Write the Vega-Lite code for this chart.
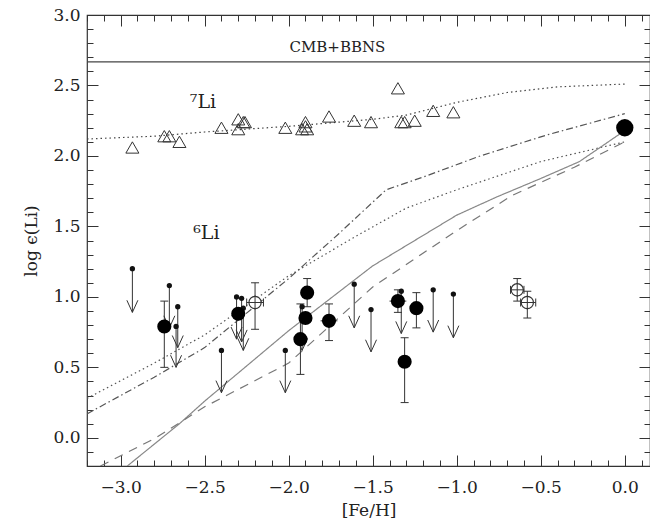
{
  "$schema": "https://vega.github.io/schema/vega-lite/v6.json",
  "width": 563,
  "height": 451,
  "autosize": {"type": "none"},
  "padding": {"left": 87, "top": 15, "right": 0, "bottom": 57},
  "background": "white",
  "config": {
    "view": {"stroke": "#333", "strokeWidth": 1.2},
    "axis": {"grid": false, "domain": false, "tickColor": "#333", "tickWidth": 1, "labelFont": "DejaVu Serif", "labelFontSize": 17, "labelColor": "#222", "titleFont": "DejaVu Serif", "titleFontSize": 17, "titleFontWeight": "normal", "titleColor": "#222"}
  },
  "datasets": {
    "models": [
      {"model": "Li7", "x": -3.2, "y": 2.12}, {"model": "Li7", "x": -2.8, "y": 2.14}, {"model": "Li7", "x": -2.5, "y": 2.17}, {"model": "Li7", "x": -2.0, "y": 2.21}, {"model": "Li7", "x": -1.5, "y": 2.26}, {"model": "Li7", "x": -1.3, "y": 2.29}, {"model": "Li7", "x": -1.0, "y": 2.38}, {"model": "Li7", "x": -0.7, "y": 2.45}, {"model": "Li7", "x": -0.4, "y": 2.49}, {"model": "Li7", "x": 0.0, "y": 2.51},
      {"model": "Li6dot", "x": -3.2, "y": 0.28}, {"model": "Li6dot", "x": -2.8, "y": 0.53}, {"model": "Li6dot", "x": -2.5, "y": 0.73}, {"model": "Li6dot", "x": -2.0, "y": 1.15}, {"model": "Li6dot", "x": -1.6, "y": 1.43}, {"model": "Li6dot", "x": -1.3, "y": 1.63}, {"model": "Li6dot", "x": -1.0, "y": 1.76}, {"model": "Li6dot", "x": -0.5, "y": 1.96}, {"model": "Li6dot", "x": 0.0, "y": 2.10},
      {"model": "Li6dashdot", "x": -3.2, "y": 0.17}, {"model": "Li6dashdot", "x": -2.8, "y": 0.43}, {"model": "Li6dashdot", "x": -2.5, "y": 0.64}, {"model": "Li6dashdot", "x": -2.0, "y": 1.13}, {"model": "Li6dashdot", "x": -1.7, "y": 1.45}, {"model": "Li6dashdot", "x": -1.42, "y": 1.76}, {"model": "Li6dashdot", "x": -1.2, "y": 1.85}, {"model": "Li6dashdot", "x": -0.86, "y": 2.0}, {"model": "Li6dashdot", "x": -0.46, "y": 2.15}, {"model": "Li6dashdot", "x": 0.0, "y": 2.30},
      {"model": "Li6solid", "x": -2.96, "y": -0.2}, {"model": "Li6solid", "x": -2.65, "y": 0.1}, {"model": "Li6solid", "x": -2.5, "y": 0.26}, {"model": "Li6solid", "x": -2.0, "y": 0.76}, {"model": "Li6solid", "x": -1.5, "y": 1.22}, {"model": "Li6solid", "x": -1.0, "y": 1.58}, {"model": "Li6solid", "x": -0.76, "y": 1.71}, {"model": "Li6solid", "x": -0.5, "y": 1.84}, {"model": "Li6solid", "x": -0.27, "y": 1.96}, {"model": "Li6solid", "x": 0.0, "y": 2.18},
      {"model": "Li6dashed", "x": -3.12, "y": -0.2}, {"model": "Li6dashed", "x": -2.79, "y": 0.0}, {"model": "Li6dashed", "x": -2.5, "y": 0.22}, {"model": "Li6dashed", "x": -2.0, "y": 0.53}, {"model": "Li6dashed", "x": -1.5, "y": 1.07}, {"model": "Li6dashed", "x": -1.0, "y": 1.47}, {"model": "Li6dashed", "x": -0.67, "y": 1.72}, {"model": "Li6dashed", "x": -0.3, "y": 1.92}, {"model": "Li6dashed", "x": 0.0, "y": 2.10}
    ],
    "cmb": [{"y": 2.667}],
    "tri": [
      {"x": -2.93, "y": 2.06}, {"x": -2.74, "y": 2.14}, {"x": -2.71, "y": 2.14}, {"x": -2.65, "y": 2.10}, {"x": -2.40, "y": 2.20}, {"x": -2.30, "y": 2.26}, {"x": -2.27, "y": 2.24}, {"x": -2.30, "y": 2.19}, {"x": -2.26, "y": 2.24}, {"x": -2.02, "y": 2.20}, {"x": -1.90, "y": 2.24}, {"x": -1.92, "y": 2.19}, {"x": -1.89, "y": 2.19}, {"x": -1.90, "y": 2.21}, {"x": -1.76, "y": 2.28}, {"x": -1.61, "y": 2.25}, {"x": -1.51, "y": 2.24}, {"x": -1.35, "y": 2.48}, {"x": -1.33, "y": 2.24}, {"x": -1.31, "y": 2.24}, {"x": -1.25, "y": 2.25}, {"x": -1.14, "y": 2.32}, {"x": -1.02, "y": 2.31}
    ],
    "det": [
      {"x": -2.74, "y": 0.79, "ylo": 0.50, "yhi": 0.97},
      {"x": -2.30, "y": 0.88, "ylo": 0.88, "yhi": 0.88},
      {"x": -1.89, "y": 1.03, "ylo": 0.93, "yhi": 1.13},
      {"x": -1.90, "y": 0.85, "ylo": 0.85, "yhi": 0.85},
      {"x": -1.93, "y": 0.70, "ylo": 0.45, "yhi": 0.95},
      {"x": -1.76, "y": 0.83, "ylo": 0.69, "yhi": 0.95},
      {"x": -1.35, "y": 0.97, "ylo": 0.89, "yhi": 1.05},
      {"x": -1.31, "y": 0.54, "ylo": 0.25, "yhi": 0.71},
      {"x": -1.24, "y": 0.92, "ylo": 0.78, "yhi": 1.03}
    ],
    "detx": [
      {"y": 0.83, "xlo": -1.81, "xhi": -1.71},
      {"y": 0.97, "xlo": -1.40, "xhi": -1.30}
    ],
    "open": [
      {"x": -2.20, "y": 0.96, "ylo": 0.77, "yhi": 1.10, "xlo": -2.25, "xhi": -2.15},
      {"x": -0.64, "y": 1.05, "ylo": 0.97, "yhi": 1.13, "xlo": -0.68, "xhi": -0.60},
      {"x": -0.58, "y": 0.96, "ylo": 0.85, "yhi": 1.04, "xlo": -0.62, "xhi": -0.53}
    ],
    "ul": [
      {"x": -2.93, "y": 1.20, "tip": 0.89},
      {"x": -2.71, "y": 1.08, "tip": 0.78},
      {"x": -2.66, "y": 0.93, "tip": 0.64},
      {"x": -2.67, "y": 0.79, "tip": 0.50},
      {"x": -2.40, "y": 0.62, "tip": 0.32},
      {"x": -2.31, "y": 1.00, "tip": 0.70},
      {"x": -2.28, "y": 0.99, "tip": 0.68},
      {"x": -2.27, "y": 0.92, "tip": 0.62},
      {"x": -2.02, "y": 0.62, "tip": 0.32},
      {"x": -1.92, "y": 0.93, "tip": 0.62},
      {"x": -1.61, "y": 1.09, "tip": 0.78},
      {"x": -1.51, "y": 0.91, "tip": 0.61},
      {"x": -1.33, "y": 1.04, "tip": 0.74},
      {"x": -1.14, "y": 1.05, "tip": 0.75},
      {"x": -1.02, "y": 1.02, "tip": 0.71}
    ],
    "sun": [{"x": 0.0, "y": 2.20}],
    "labels": [
      {"x": -1.71, "y": 2.77, "text": "CMB+BBNS", "kind": "small"},
      {"x": -2.51, "y": 2.38, "text": "⁷Li", "kind": "big"},
      {"x": -2.49, "y": 1.45, "text": "⁶Li", "kind": "big"}
    ]
  },
  "resolve": {"scale": {"x": "independent", "y": "independent"}},
  "layer": [
    {
      "layer": [
        {
          "data": {"name": "models"},
          "mark": {"type": "line", "clip": true, "strokeWidth": 1.2},
          "encoding": {
            "x": {"field": "x", "type": "quantitative", "scale": {"domain": [-3.2, 0.15], "nice": false, "zero": false}, "axis": null},
            "y": {"field": "y", "type": "quantitative", "scale": {"domain": [-0.2, 3.0], "nice": false, "zero": false}, "axis": null},
            "detail": {"field": "model"},
            "strokeDash": {"field": "model", "type": "nominal", "legend": null,
              "scale": {"domain": ["Li7", "Li6dot", "Li6dashdot", "Li6solid", "Li6dashed"], "range": [[1.5, 3], [1.5, 3], [7, 3, 1.5, 3], [1, 0], [9, 7]]}},
            "color": {"field": "model", "type": "nominal", "legend": null,
              "scale": {"domain": ["Li7", "Li6dot", "Li6dashdot", "Li6solid", "Li6dashed"], "range": ["#444", "#555", "#555", "#888", "#777"]}}
          }
        },
        {
          "data": {"name": "cmb"},
          "mark": {"type": "rule", "color": "#444", "strokeWidth": 1.2},
          "encoding": {"y": {"field": "y", "type": "quantitative", "axis": null}}
        },
        {
          "data": {"name": "ul"},
          "mark": {"type": "rule", "color": "#333", "strokeWidth": 1},
          "encoding": {
            "x": {"field": "x", "type": "quantitative", "axis": null},
            "y": {"field": "y", "type": "quantitative", "axis": null},
            "y2": {"field": "tip"}
          }
        },
        {
          "data": {"name": "det"},
          "mark": {"type": "rule", "color": "#333", "strokeWidth": 1},
          "encoding": {
            "x": {"field": "x", "type": "quantitative", "axis": null},
            "y": {"field": "ylo", "type": "quantitative", "axis": null},
            "y2": {"field": "yhi"}
          }
        },
        {
          "data": {"name": "det"},
          "mark": {"type": "point", "shape": "M-1,0L1,0", "filled": false, "size": 64, "stroke": "#333", "strokeWidth": 1, "opacity": 1},
          "encoding": {
            "x": {"field": "x", "type": "quantitative", "axis": null},
            "y": {"field": "ylo", "type": "quantitative", "axis": null}
          }
        },
        {
          "data": {"name": "det"},
          "mark": {"type": "point", "shape": "M-1,0L1,0", "filled": false, "size": 64, "stroke": "#333", "strokeWidth": 1, "opacity": 1},
          "encoding": {
            "x": {"field": "x", "type": "quantitative", "axis": null},
            "y": {"field": "yhi", "type": "quantitative", "axis": null}
          }
        },
        {
          "data": {"name": "detx"},
          "mark": {"type": "rule", "color": "#333", "strokeWidth": 1},
          "encoding": {
            "x": {"field": "xlo", "type": "quantitative", "axis": null},
            "x2": {"field": "xhi"},
            "y": {"field": "y", "type": "quantitative", "axis": null}
          }
        },
        {
          "data": {"name": "open"},
          "mark": {"type": "rule", "color": "#333", "strokeWidth": 1},
          "encoding": {
            "x": {"field": "x", "type": "quantitative", "axis": null},
            "y": {"field": "ylo", "type": "quantitative", "axis": null},
            "y2": {"field": "yhi"}
          }
        },
        {
          "data": {"name": "open"},
          "mark": {"type": "rule", "color": "#333", "strokeWidth": 1},
          "encoding": {
            "x": {"field": "xlo", "type": "quantitative", "axis": null},
            "x2": {"field": "xhi"},
            "y": {"field": "y", "type": "quantitative", "axis": null}
          }
        },
        {
          "data": {"name": "open"},
          "mark": {"type": "point", "shape": "M-1,0L1,0", "filled": false, "size": 64, "stroke": "#333", "strokeWidth": 1, "opacity": 1},
          "encoding": {
            "x": {"field": "x", "type": "quantitative", "axis": null},
            "y": {"field": "ylo", "type": "quantitative", "axis": null}
          }
        },
        {
          "data": {"name": "open"},
          "mark": {"type": "point", "shape": "M-1,0L1,0", "filled": false, "size": 64, "stroke": "#333", "strokeWidth": 1, "opacity": 1},
          "encoding": {
            "x": {"field": "x", "type": "quantitative", "axis": null},
            "y": {"field": "yhi", "type": "quantitative", "axis": null}
          }
        },
        {
          "data": {"name": "open"},
          "mark": {"type": "point", "shape": "M0,-1L0,1", "filled": false, "size": 64, "stroke": "#333", "strokeWidth": 1, "opacity": 1},
          "encoding": {
            "x": {"field": "xlo", "type": "quantitative", "axis": null},
            "y": {"field": "y", "type": "quantitative", "axis": null}
          }
        },
        {
          "data": {"name": "open"},
          "mark": {"type": "point", "shape": "M0,-1L0,1", "filled": false, "size": 64, "stroke": "#333", "strokeWidth": 1, "opacity": 1},
          "encoding": {
            "x": {"field": "xhi", "type": "quantitative", "axis": null},
            "y": {"field": "y", "type": "quantitative", "axis": null}
          }
        },
        {
          "data": {"name": "open"},
          "mark": {"type": "point", "shape": "circle", "filled": true, "size": 150, "fill": "white", "stroke": "#333", "strokeWidth": 1.2, "opacity": 1},
          "encoding": {
            "x": {"field": "x", "type": "quantitative", "axis": null},
            "y": {"field": "y", "type": "quantitative", "axis": null}
          }
        },
        {
          "data": {"name": "open"},
          "mark": {"type": "point", "shape": "M-1,0L1,0M0,-1L0,1", "filled": false, "size": 196, "stroke": "#333", "strokeWidth": 1, "opacity": 1},
          "encoding": {
            "x": {"field": "x", "type": "quantitative", "axis": null},
            "y": {"field": "y", "type": "quantitative", "axis": null}
          }
        },
        {
          "data": {"name": "sun"},
          "mark": {"type": "point", "shape": "circle", "filled": true, "size": 300, "color": "#000", "opacity": 1},
          "encoding": {
            "x": {"field": "x", "type": "quantitative", "axis": null},
            "y": {"field": "y", "type": "quantitative", "axis": null}
          }
        },
        {
          "data": {"name": "labels"},
          "transform": [{"filter": "datum.kind == 'small'"}],
          "mark": {"type": "text", "font": "DejaVu Serif", "fontSize": 15, "color": "#222", "align": "center", "baseline": "middle"},
          "encoding": {
            "x": {"field": "x", "type": "quantitative", "axis": null},
            "y": {"field": "y", "type": "quantitative", "axis": null},
            "text": {"field": "text"}
          }
        },
        {
          "data": {"name": "labels"},
          "transform": [{"filter": "datum.kind == 'big'"}],
          "mark": {"type": "text", "font": "DejaVu Serif", "fontSize": 19, "color": "#222", "align": "center", "baseline": "middle"},
          "encoding": {
            "x": {"field": "x", "type": "quantitative", "axis": null},
            "y": {"field": "y", "type": "quantitative", "axis": null},
            "text": {"field": "text"}
          }
        }
      ]
    },
    {
      "data": {"name": "tri"},
      "mark": {"type": "point", "shape": "triangle-up", "filled": false, "size": 170, "stroke": "#333", "strokeWidth": 1, "opacity": 1},
      "encoding": {
        "x": {"field": "x", "type": "quantitative", "scale": {"domain": [-3.2, 0.15], "nice": false, "zero": false},
              "axis": {"orient": "bottom", "values": [-3, -2.5, -2, -1.5, -1, -0.5, 0], "format": ".1f", "tickSize": 11, "offset": -11, "labelPadding": 13, "title": "[Fe/H]", "titlePadding": 7}},
        "y": {"field": "y", "type": "quantitative", "scale": {"domain": [-0.2, 3.0], "nice": false, "zero": false},
              "axis": {"orient": "left", "values": [0, 0.5, 1, 1.5, 2, 2.5, 3], "format": ".1f", "tickSize": 11, "offset": -11, "labelPadding": 7, "title": "log ϵ(Li)", "titlePadding": 12}}
      }
    },
    {
      "data": {"name": "ul"},
      "mark": {"type": "point", "shape": "M-1,-2.2L0,0L1,-2.2", "filled": false, "size": 121, "stroke": "#333", "strokeWidth": 1, "opacity": 1},
      "encoding": {
        "x": {"field": "x", "type": "quantitative", "scale": {"domain": [-3.2, 0.15], "nice": false, "zero": false},
              "axis": {"orient": "top", "values": [-3.2, -3.1, -3.0, -2.9, -2.8, -2.7, -2.6, -2.5, -2.4, -2.3, -2.2, -2.1, -2.0, -1.9, -1.8, -1.7, -1.6, -1.5, -1.4, -1.3, -1.2, -1.1, -1.0, -0.9, -0.8, -0.7, -0.6, -0.5, -0.4, -0.3, -0.2, -0.1, 0.0, 0.1], "tickSize": 6, "offset": -6, "labels": false, "title": null}},
        "y": {"field": "tip", "type": "quantitative", "scale": {"domain": [-0.2, 3.0], "nice": false, "zero": false},
              "axis": {"orient": "right", "values": [-0.2, -0.1, 0.0, 0.1, 0.2, 0.3, 0.4, 0.5, 0.6, 0.7, 0.8, 0.9, 1.0, 1.1, 1.2, 1.3, 1.4, 1.5, 1.6, 1.7, 1.8, 1.9, 2.0, 2.1, 2.2, 2.3, 2.4, 2.5, 2.6, 2.7, 2.8, 2.9, 3.0], "tickSize": 6, "offset": -6, "labels": false, "title": null}}
      }
    },
    {
      "data": {"name": "ul"},
      "mark": {"type": "point", "shape": "circle", "filled": true, "size": 28, "color": "#111", "opacity": 1},
      "encoding": {
        "x": {"field": "x", "type": "quantitative", "scale": {"domain": [-3.2, 0.15], "nice": false, "zero": false},
              "axis": {"orient": "top", "values": [-3, -2.5, -2, -1.5, -1, -0.5, 0], "tickSize": 11, "offset": -11, "labels": false, "title": null}},
        "y": {"field": "y", "type": "quantitative", "scale": {"domain": [-0.2, 3.0], "nice": false, "zero": false},
              "axis": {"orient": "right", "values": [0, 0.5, 1, 1.5, 2, 2.5, 3], "tickSize": 11, "offset": -11, "labels": false, "title": null}}
      }
    },
    {
      "data": {"name": "det"},
      "mark": {"type": "point", "shape": "circle", "filled": true, "size": 200, "color": "#000", "opacity": 1},
      "encoding": {
        "x": {"field": "x", "type": "quantitative", "scale": {"domain": [-3.2, 0.15], "nice": false, "zero": false},
              "axis": {"orient": "bottom", "values": [-3.2, -3.1, -3.0, -2.9, -2.8, -2.7, -2.6, -2.5, -2.4, -2.3, -2.2, -2.1, -2.0, -1.9, -1.8, -1.7, -1.6, -1.5, -1.4, -1.3, -1.2, -1.1, -1.0, -0.9, -0.8, -0.7, -0.6, -0.5, -0.4, -0.3, -0.2, -0.1, 0.0, 0.1], "tickSize": 6, "offset": -6, "labels": false, "title": null}},
        "y": {"field": "y", "type": "quantitative", "scale": {"domain": [-0.2, 3.0], "nice": false, "zero": false},
              "axis": {"orient": "left", "values": [-0.2, -0.1, 0.0, 0.1, 0.2, 0.3, 0.4, 0.5, 0.6, 0.7, 0.8, 0.9, 1.0, 1.1, 1.2, 1.3, 1.4, 1.5, 1.6, 1.7, 1.8, 1.9, 2.0, 2.1, 2.2, 2.3, 2.4, 2.5, 2.6, 2.7, 2.8, 2.9, 3.0], "tickSize": 6, "offset": -6, "labels": false, "title": null}}
      }
    }
  ]
}
